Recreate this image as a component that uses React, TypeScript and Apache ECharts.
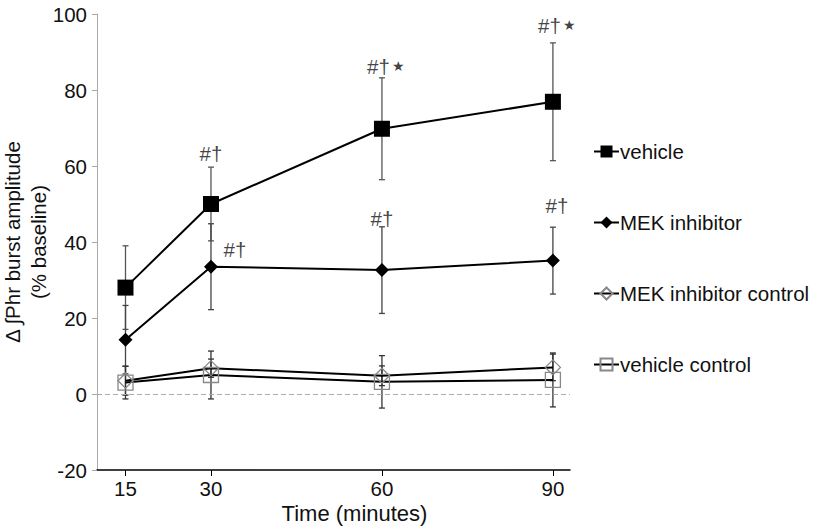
import React, { useEffect, useRef } from "react";
import * as echarts from "echarts";

const timePoints = [15, 30, 60, 90];
const xTickLabels = [15, 30, 60, 90];
const vehicle = [28, 50, 69.8, 76.9];
const vehicleErr = [11, 9.7, 13.4, 15.5];
const mek = [14.3, 33.5, 32.6, 35.1];
const mekErr = [9, 11.3, 11.4, 8.8];
const mekCtrl = [3.5, 6.8, 4.8, 7.0];
const mekCtrlErr = [3.8, 2.4, 2.6, 3.5];
const vehCtrl = [3.0, 5.0, 3.2, 3.7];
const vehCtrlErr = [4.3, 6.3, 6.9, 7.1];
const seriesNames = ["vehicle", "MEK inhibitor", "MEK inhibitor control", "vehicle control"];
// significance annotations: [x, y, marks, star]
const annotations: [number, number, string, string][] = [
  [30, 63.4, "#†", ""],
  [34.2, 37.9, "#†", ""],
  [60.7, 86.3, "#†", "★"],
  [60, 46.3, "#†", ""],
  [90.7, 97.1, "#†", "★"],
  [90.7, 49.7, "#†", ""],
];

const FONT = "'Liberation Sans', Arial, Helvetica, sans-serif";
const FS = 20.5;

function errData(vals: number[], errs: number[]) {
  return timePoints.map((t, i) => [t, vals[i] - errs[i], vals[i] + errs[i]]);
}

function errSeries(vals: number[], errs: number[], color: string) {
  return {
    type: "custom",
    silent: true,
    z: 1,
    data: errData(vals, errs),
    encode: { x: 0, y: [1, 2] },
    renderItem: (params: any, api: any) => {
      const x = api.value(0);
      const lo = api.coord([x, api.value(1)]);
      const hi = api.coord([x, api.value(2)]);
      const w = 3;
      const style = { stroke: color, lineWidth: 1.3 };
      return {
        type: "group",
        children: [
          { type: "line", shape: { x1: lo[0], y1: lo[1], x2: hi[0], y2: hi[1] }, style },
          { type: "line", shape: { x1: lo[0] - w, y1: lo[1], x2: lo[0] + w, y2: lo[1] }, style },
          { type: "line", shape: { x1: hi[0] - w, y1: hi[1], x2: hi[0] + w, y2: hi[1] }, style },
        ],
      };
    },
  };
}

export default function App() {
  const ref = useRef<HTMLDivElement>(null);
  useEffect(() => {
    if (!ref.current) return;
    const chart = echarts.init(ref.current, null, { renderer: "svg" });
    const lineSeries = (name: string, vals: number[], symbol: string, size: number, item: any, extra: any = {}) => ({
      name,
      type: "line",
      z: 3,
      data: timePoints.map((t, i) => [t, vals[i]]),
      symbol,
      symbolSize: size,
      showSymbol: true,
      lineStyle: { color: "#000", width: 2 },
      itemStyle: item,
      emphasis: { disabled: true },
      ...extra,
    });
    chart.setOption({
      animation: false,
      textStyle: { fontFamily: FONT },
      grid: { left: 97, right: 245, top: 14, bottom: 56, outerBoundsMode: "none", containLabel: false },
      legend: {
        orient: "vertical",
        left: 593,
        top: 141,
        padding: 0,
        itemGap: 50,
        itemWidth: 25,
        itemHeight: 15,
        textStyle: { fontSize: FS, color: "#111", fontFamily: FONT, padding: [0, 0, 0, -4] },
        data: seriesNames,
      },
      xAxis: {
        type: "value",
        min: 10,
        max: 93,
        name: "Time (minutes)",
        nameLocation: "middle",
        nameGap: 32,
        nameMoveOverlap: false,
        nameTextStyle: { fontSize: 22, color: "#111", fontFamily: FONT, padding: [0, 0, 0, 42] },
        axisLine: { onZero: false, lineStyle: { color: "#000", width: 1.5 } },
        axisTick: { show: true, customValues: xTickLabels, length: 6, lineStyle: { color: "#000" } },
        axisLabel: { customValues: xTickLabels, fontSize: FS, color: "#111", margin: 8, fontFamily: FONT },
        splitLine: { show: false },
      },
      yAxis: {
        type: "value",
        min: -20,
        max: 100,
        interval: 20,
        name: "Δ ∫Phr burst amplitude\n(% baseline)",
        nameLocation: "middle",
        nameRotate: 90,
        nameGap: 46,
        nameMoveOverlap: false,
        nameTextStyle: { fontSize: FS, color: "#111", fontFamily: FONT, lineHeight: 26 },
        axisLine: { show: true, lineStyle: { color: "#aaa", width: 1 } },
        axisTick: { show: true, length: 5, lineStyle: { color: "#aaa" } },
        axisLabel: { fontSize: FS, color: "#111", margin: 10, fontFamily: FONT },
        splitLine: { show: false },
      },
      series: [
        errSeries(vehicle, vehicleErr, "#555"),
        errSeries(mek, mekErr, "#444"),
        errSeries(mekCtrl, mekCtrlErr, "#333"),
        errSeries(vehCtrl, vehCtrlErr, "#333"),
        lineSeries(seriesNames[0], vehicle, "rect", 16, { color: "#000" }),
        lineSeries(seriesNames[1], mek, "diamond", 14, { color: "#000" }),
        lineSeries(seriesNames[2], mekCtrl, "diamond", 15, { color: "rgba(255,255,255,0)", borderColor: "#888", borderWidth: 1.3 }),
        lineSeries(seriesNames[3], vehCtrl, "rect", 15, { color: "rgba(255,255,255,0)", borderColor: "#888", borderWidth: 1.3 }, {
          markLine: {
            silent: true,
            symbol: "none",
            label: { show: false },
            lineStyle: { color: "#aaa", type: [5, 3], width: 1 },
            data: [{ yAxis: 0 }],
          },
        }),
        {
          type: "scatter",
          silent: true,
          z: 5,
          symbolSize: 0,
          data: annotations.map((a) => [a[0], a[1], a[2], a[3]]),
          label: {
            show: true,
            position: "inside",
            formatter: (p: any) => p.data[2] + (p.data[3] ? "{s|" + p.data[3] + "}" : ""),
            fontSize: FS,
            color: "#111",
            fontFamily: FONT,
            rich: { s: { fontSize: 14, color: "#111", padding: [0, 0, 1, 2] } },
          },
        },
      ],
    });
    return () => chart.dispose();
  }, []);
  return <div ref={ref} style={{ width: 815, height: 526, position: "absolute", left: 0, top: 0, background: "#fff" }} />;
}
